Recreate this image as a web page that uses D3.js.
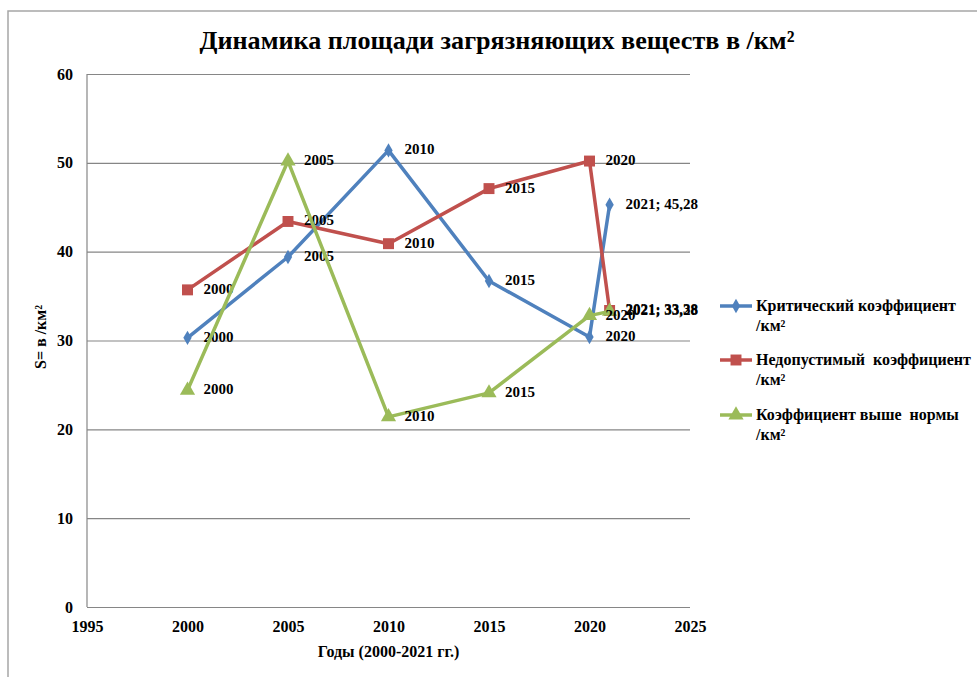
<!DOCTYPE html>
<html><head>
<meta charset="utf-8">
<script src="https://cdn.jsdelivr.net/npm/d3@7"></script>
</head>
<body style="margin:0;padding:0;background:#fff">
<svg id="chart" width="977" height="677" style="display:block"></svg>
<script>
const title = "Динамика площади загрязняющих веществ  в /км²";
const xTitle = "Годы (2000-2021 гг.)";
const yTitle = "S= в /км²";
const years = [2000, 2005, 2010, 2015, 2020, 2021];
const critical = [30.3, 39.4, 51.4, 36.7, 30.4, 45.28];
const inadmissible = [35.7, 43.4, 40.9, 47.1, 50.2, 33.38];
const aboveNorm = [24.4, 50.2, 21.4, 24.1, 32.8, 33.28];
const seriesNames = [["Критический коэффициент", "/км²"], ["Недопустимый  коэффициент", "/км²"], ["Коэффициент выше  нормы", "/км²"]];
const seriesColors = ["#4F81BD", "#C0504D", "#9BBB59"];
const seriesSymbols = ["diamond", "square", "triangle"];
const xTicks = [1995, 2000, 2005, 2010, 2015, 2020, 2025];
const yTicks = [0, 10, 20, 30, 40, 50, 60];

const FONT = '"Tinos"';
const svg = d3.select("#chart");
const W = 977, H = 677;
const pLeft = 87, pRight = 690, pTop = 74, pBottom = 607;
const x = d3.scaleLinear().domain([1995, 2025]).range([pLeft, pRight]);
const y = d3.scaleLinear().domain([0, 60]).range([pBottom, pTop]);

function serif(sel, size) {
  return sel.attr("font-family", FONT).attr("font-weight", "bold").attr("font-size", size);
}

// outer frame
svg.append("path").attr("d", `M8,${H+2} L8,11 L${W+2},11`).attr("fill", "none").attr("stroke", "#a6a6a6").attr("stroke-width", 1.5);

// title
serif(svg.append("text").attr("x", 497).attr("y", 49).attr("text-anchor", "middle"), 26)
  .attr("textLength", 595).attr("lengthAdjust", "spacingAndGlyphs").text(title);

// grid
const gY = svg.append("g").attr("transform", `translate(${pLeft},0)`)
  .call(d3.axisLeft(y).tickValues(yTicks).tickSize(-(pRight - pLeft)).tickPadding(14).tickFormat(d3.format("d")));
gY.attr("font-family", FONT);
gY.select(".domain").remove();
gY.selectAll(".tick line").attr("stroke", "#868686").attr("stroke-width", 1.2);
serif(gY.selectAll(".tick text"), 16);
svg.append("line").attr("x1", pLeft).attr("x2", pLeft).attr("y1", pTop).attr("y2", pBottom).attr("stroke", "#868686").attr("stroke-width", 1.2);

const gX = svg.append("g").attr("transform", `translate(0,${pBottom})`)
  .call(d3.axisBottom(x).tickValues(xTicks).tickSize(0).tickPadding(14).tickFormat(d3.format("d")));
gX.attr("font-family", FONT);
gX.select(".domain").remove();
serif(gX.selectAll(".tick text"), 16);

// axis titles
serif(svg.append("text").attr("x", x(2010)).attr("y", 657).attr("text-anchor", "middle"), 16).text(xTitle);
serif(svg.append("text").attr("transform", `translate(46,337) rotate(-90)`).attr("text-anchor", "middle"), 16).text(yTitle);

const symType = {diamond: d3.symbolDiamond, square: d3.symbolSquare, triangle: d3.symbolTriangle};
const symSize = {diamond: 60, square: 120, triangle: 100};
const allSeries = [critical, inadmissible, aboveNorm];
const fmt = v => String(v).replace(".", ",");

allSeries.forEach((vals, i) => {
  const pts = years.map((yr, j) => [yr, vals[j]]);
  const line = d3.line().x(d => x(d[0])).y(d => y(d[1]));
  svg.append("path").datum(pts).attr("d", line).attr("fill", "none")
    .attr("stroke", seriesColors[i]).attr("stroke-width", 3.5).attr("stroke-linejoin", "round");
  svg.append("g").selectAll("path").data(pts).join("path")
    .attr("transform", d => `translate(${x(d[0])},${y(d[1])})`)
    .attr("d", d3.symbol().type(symType[seriesSymbols[i]]).size(symSize[seriesSymbols[i]]))
    .attr("fill", seriesColors[i]);
  serif(svg.append("g").selectAll("text").data(pts).join("text")
    .attr("x", d => x(d[0]) + 16).attr("y", d => y(d[1]) + 4), 15)
    .text((d, j) => j === pts.length - 1 ? `${d[0]}; ${fmt(d[1])}` : `${d[0]}`);
});

// legend
const legY = [306, 360, 415];
seriesNames.forEach((nm, i) => {
  const ly = legY[i];
  svg.append("line").attr("x1", 720).attr("x2", 752).attr("y1", ly).attr("y2", ly)
    .attr("stroke", seriesColors[i]).attr("stroke-width", 3.5);
  svg.append("path").attr("transform", `translate(736,${ly})`)
    .attr("d", d3.symbol().type(symType[seriesSymbols[i]]).size(symSize[seriesSymbols[i]]))
    .attr("fill", seriesColors[i]);
  serif(svg.append("text").attr("x", 756).attr("y", ly + 5), 16).attr("xml:space", "preserve").text(nm[0]);
  serif(svg.append("text").attr("x", 756).attr("y", ly + 25), 16).text(nm[1]);
});
</script>
</body></html>
